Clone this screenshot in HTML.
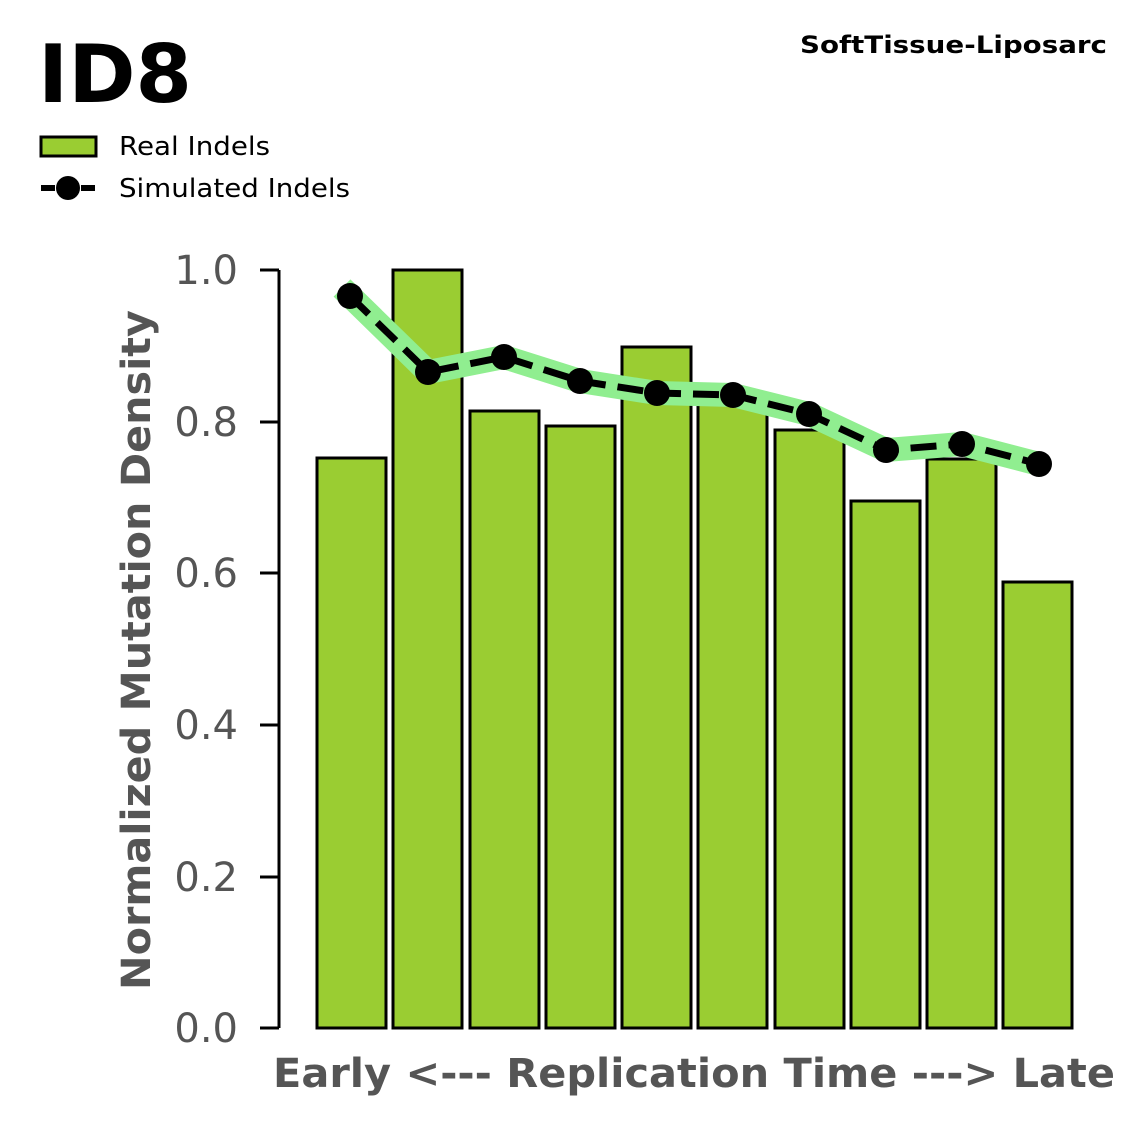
<!DOCTYPE html>
<html><head><style>body{margin:0;background:#fff}svg{display:block}text{font-family:"DejaVu Sans","Liberation Sans",sans-serif}</style></head><body>
<svg width="1147" height="1125" viewBox="0 0 1147 1125">
<text x="38" y="102" font-size="80" font-weight="bold" fill="#000" textLength="154" lengthAdjust="spacingAndGlyphs">ID8</text>
<text x="800" y="53" font-size="24" font-weight="bold" fill="#000" textLength="307" lengthAdjust="spacingAndGlyphs">SoftTissue-Liposarc</text>
<rect x="41" y="137" width="55" height="19" fill="#9acd32" stroke="#000" stroke-width="3"/>
<text x="119" y="155" font-size="26" fill="#000" textLength="151" lengthAdjust="spacingAndGlyphs">Real Indels</text>
<line x1="41" y1="188" x2="96" y2="188" stroke="#000" stroke-width="6" stroke-dasharray="14,6"/>
<circle cx="68" cy="188" r="12" fill="#000"/>
<text x="119" y="197" font-size="26" fill="#000" textLength="231" lengthAdjust="spacingAndGlyphs">Simulated Indels</text>
<line x1="279" y1="270" x2="279" y2="1028" stroke="#000" stroke-width="3"/>
<g stroke="#000" stroke-width="3">
<line x1="260" y1="270" x2="279" y2="270"/><line x1="260" y1="422" x2="279" y2="422"/><line x1="260" y1="573" x2="279" y2="573"/><line x1="260" y1="725" x2="279" y2="725"/><line x1="260" y1="877" x2="279" y2="877"/><line x1="260" y1="1028" x2="279" y2="1028"/>
</g>
<g font-size="40" fill="#555" text-anchor="end">
<text x="238" y="284">1.0</text><text x="238" y="436">0.8</text><text x="238" y="587">0.6</text><text x="238" y="739">0.4</text><text x="238" y="891">0.2</text><text x="238" y="1042">0.0</text>
</g>
<text transform="translate(150,650) rotate(-90)" font-size="40" font-weight="bold" fill="#555" text-anchor="middle" textLength="680" lengthAdjust="spacingAndGlyphs">Normalized Mutation Density</text>
<text x="273" y="1087" font-size="40" font-weight="bold" fill="#555" textLength="842" lengthAdjust="spacingAndGlyphs">Early &lt;--- Replication Time ---&gt; Late</text>
<g fill="#9acd32" stroke="#000" stroke-width="3">
<rect x="317" y="458" width="69" height="570"/>
<rect x="393" y="270" width="69" height="758"/>
<rect x="470" y="411" width="69" height="617"/>
<rect x="546" y="426" width="69" height="602"/>
<rect x="622" y="347" width="69" height="681"/>
<rect x="698" y="402" width="69" height="626"/>
<rect x="775" y="430" width="69" height="598"/>
<rect x="851" y="501" width="69" height="527"/>
<rect x="927" y="459" width="69" height="569"/>
<rect x="1003" y="582" width="69" height="446"/>
</g>
<polyline points="342,288 428,372 504,357 580,381 657,393 733,395 809,414 886,450 962,444 1039,464" fill="none" stroke="#90ee90" stroke-width="24" stroke-linejoin="round"/>
<polyline points="350,296 428,372 504,357 580,381 657,393 733,395 809,414 886,450 962,444 1039,464" fill="none" stroke="#000" stroke-width="7" stroke-dasharray="26,12"/>
<g fill="#000">
<circle cx="350" cy="296" r="13"/><circle cx="428" cy="372" r="13"/><circle cx="504" cy="357" r="13"/><circle cx="580" cy="381" r="13"/><circle cx="657" cy="393" r="13"/><circle cx="733" cy="395" r="13"/><circle cx="809" cy="414" r="13"/><circle cx="886" cy="450" r="13"/><circle cx="962" cy="444" r="13"/><circle cx="1039" cy="464" r="13"/>
</g>
</svg>
</body></html>
